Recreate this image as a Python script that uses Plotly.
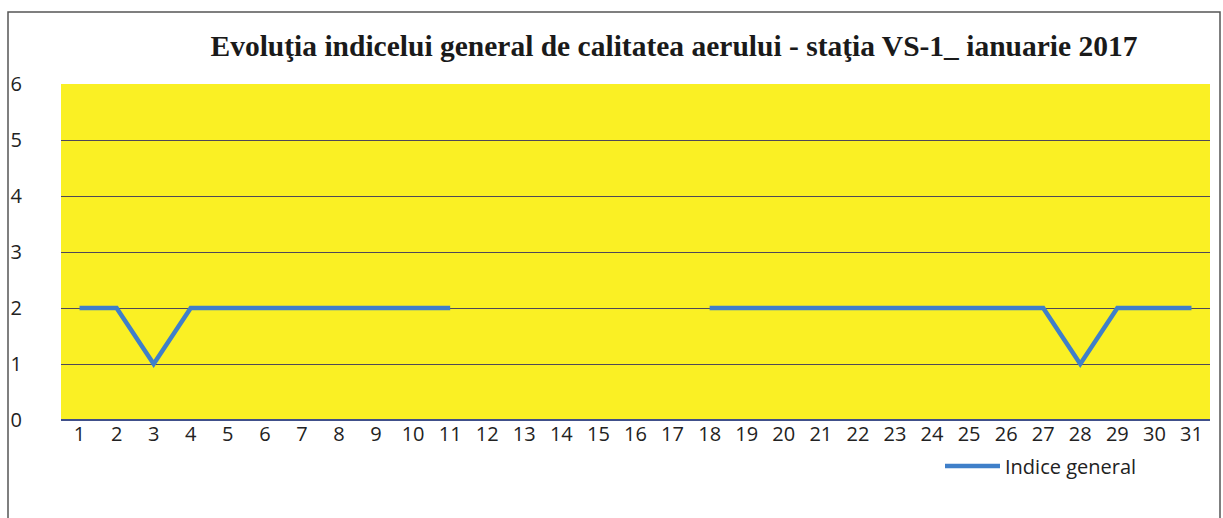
import plotly.graph_objects as go

days = [str(d) for d in range(1, 32)]
indice = [2, 2, 1, 2, 2, 2, 2, 2, 2, 2, 2,
          None, None, None, None, None, None,
          2, 2, 2, 2, 2, 2, 2, 2, 2, 2, 1, 2, 2, 2]
y_ticks = [0, 1, 2, 3, 4, 5, 6]

W, H = 1223, 518
ml, mr, mt, mb = 61, 13, 84, 98
pw, ph = W - ml - mr, H - mt - mb

def px_x(x):
    return (x - ml) / pw

def px_y(y):
    return (H - mb - y) / ph

fig = go.Figure()
fig.add_trace(go.Scatter(
    x=days, y=indice, mode="lines", name="Indice general",
    line=dict(color="#3f7fc9", width=4.5), connectgaps=False,
    showlegend=True,
))

fig.update_layout(
    width=W, height=H,
    margin=dict(l=ml, r=mr, t=mt, b=mb, autoexpand=False),
    paper_bgcolor="white",
    plot_bgcolor="#faf024",
    title=dict(text="<b>Evoluţia indicelui general de calitatea aerului - staţia VS-1_ ianuarie 2017</b>",
               x=px_x(674), xanchor="center", xref="paper",
               y=1 - 46 / H, yanchor="middle",
               font=dict(family="Liberation Serif", size=29.5, color="#1a1a1a")),
    xaxis=dict(type="category", categoryorder="array", categoryarray=days,
               range=[-0.5, 30.5], showgrid=False, zeroline=False,
               showline=False, ticks="", automargin=False,
               tickfont=dict(family="Open Sans", size=20, color="#222"),
               ticklabelstandoff=0),
    yaxis=dict(range=[0, 6], tickvals=y_ticks, showgrid=True,
               gridcolor="#4f4858", gridwidth=1.2, zeroline=True,
               zerolinecolor="#40508a", zerolinewidth=1.5, automargin=False,
               ticks="", tickfont=dict(family="Open Sans", size=20, color="#222"),
               ticklabelstandoff=38),
    legend=dict(orientation="h", x=px_x(940), xanchor="left",
                y=px_y(466), yanchor="middle",
                font=dict(family="Open Sans", size=20, color="#222"),
                bgcolor="rgba(0,0,0,0)", itemwidth=55),
    showlegend=True,
)

fig.add_shape(type="rect", xref="paper", yref="paper",
              x0=px_x(8), x1=px_x(1220), y0=px_y(530), y1=px_y(12),
              line=dict(color="#555", width=1.5), fillcolor="rgba(0,0,0,0)", layer="below")

fig.write_html("out.html", config={"displayModeBar": False},
               post_script="document.body.style.margin='0';document.body.style.overflow='hidden';")
